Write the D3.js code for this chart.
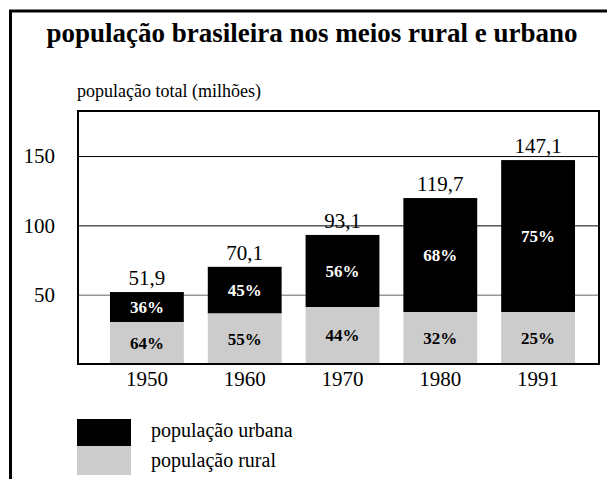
<!DOCTYPE html>
<html>
<head>
<meta charset="utf-8">
<script src="https://cdn.jsdelivr.net/npm/d3@7"></script>
<style>
  body { margin: 0; background: #fff; }
  svg { display: block; font-family: "Liberation Serif", "Times New Roman", serif; }
</style>
</head>
<body>
<div id="chart"></div>
<script>
// data
const years = ['1950', '1960', '1970', '1980', '1991'];
const totals = [51.9, 70.1, 93.1, 119.7, 147.1];          // milhões
const totalLabels = ['51,9', '70,1', '93,1', '119,7', '147,1'];
const urbanPct = [36, 45, 56, 68, 75];
const ruralPct = [64, 55, 44, 32, 25];
const ruralDrawn = [30.3, 36.4, 41.1, 37.5, 37.5];        // height of grey part as drawn
const yTicks = [50, 100, 150];

const W = 607, H = 479;
const box = { left: 78, right: 599, top: 111, bottom: 364 };

const svg = d3.select('#chart')
    .append('svg')
    .attr('width', W)
    .attr('height', H);

// outer frame (top + left only)
svg.append('path')
    .attr('d', `M10.5,${H} V11 H${W}`)
    .attr('fill', 'none')
    .attr('stroke', '#000')
    .attr('stroke-width', 3);

// title
svg.append('text')
    .attr('x', 312)
    .attr('y', 42)
    .attr('text-anchor', 'middle')
    .style('font-size', '27px')
    .style('font-weight', 'bold')
    .text('população brasileira nos meios rural e urbano');

svg.append('text')
    .attr('x', 77)
    .attr('y', 97)
    .style('font-size', '18px')
    .text('população total (milhões)');

// scales
const x = d3.scaleBand()
    .domain(years)
    .range([98, 587])
    .paddingInner(0.245)
    .paddingOuter(0.1225);

const y = d3.scaleLinear()
    .domain([0, 182.5])
    .range([box.bottom, box.top]);

// grid lines + ticks
const yAxis = d3.axisLeft(y)
    .tickValues(yTicks)
    .tickSize(10)
    .tickPadding(13)
    .tickFormat(d3.format('d'));

const gy = svg.append('g')
    .attr('transform', `translate(${box.left},0)`)
    .call(yAxis);
gy.select('.domain').remove();
gy.selectAll('.tick line')
    .attr('x2', box.right - box.left)
    .attr('stroke', d => d === 50 ? '#666' : '#000');
gy.selectAll('.tick text')
    .style('font-size', '21px')
    .style('font-family', '"Liberation Serif", serif')
    .attr('fill', '#000');

// bars
const bars = svg.selectAll('.bar')
    .data(years.map((yr, i) => ({ yr, total: totals[i], label: totalLabels[i], up: urbanPct[i], rp: ruralPct[i], rural: ruralDrawn[i] })))
    .enter()
    .append('g')
    .attr('class', 'bar');

bars.append('rect')
    .attr('x', d => x(d.yr))
    .attr('y', d => y(d.total))
    .attr('width', x.bandwidth())
    .attr('height', d => y(d.rural) - y(d.total))
    .attr('fill', '#000');

bars.append('rect')
    .attr('x', d => x(d.yr))
    .attr('y', d => y(d.rural))
    .attr('width', x.bandwidth())
    .attr('height', d => y(0) - y(d.rural))
    .attr('fill', '#cccccc');

bars.append('text')
    .attr('x', d => x(d.yr) + x.bandwidth() / 2)
    .attr('y', d => (y(d.total) + y(d.rural)) / 2)
    .attr('dy', '0.35em')
    .attr('text-anchor', 'middle')
    .attr('fill', '#fff')
    .style('font-size', '17px')
    .style('font-weight', 'bold')
    .text(d => d.up + '%');

bars.append('text')
    .attr('x', d => x(d.yr) + x.bandwidth() / 2)
    .attr('y', d => (y(d.rural) + y(0)) / 2)
    .attr('dy', '0.35em')
    .attr('text-anchor', 'middle')
    .attr('fill', '#000')
    .style('font-size', '17px')
    .style('font-weight', 'bold')
    .text(d => d.rp + '%');

bars.append('text')
    .attr('x', d => x(d.yr) + x.bandwidth() / 2)
    .attr('y', d => y(d.total) - 7)
    .attr('text-anchor', 'middle')
    .style('font-size', '21px')
    .text(d => d.label);

// plot box
svg.append('rect')
    .attr('x', box.left)
    .attr('y', box.top)
    .attr('width', box.right - box.left)
    .attr('height', box.bottom - box.top)
    .attr('fill', 'none')
    .attr('stroke', '#000')
    .attr('stroke-width', 2);

// x axis labels
const xAxis = d3.axisBottom(x).tickSize(0).tickPadding(7);
const gx = svg.append('g')
    .attr('transform', `translate(0,${box.bottom})`)
    .call(xAxis);
gx.select('.domain').remove();
gx.selectAll('text')
    .style('font-size', '21px')
    .style('font-family', '"Liberation Serif", serif')
    .attr('fill', '#000');

// legend
const legendItems = [
    { label: 'população urbana', color: '#000' },
    { label: 'população rural', color: '#cccccc' }
];
const legend = svg.append('g').attr('transform', 'translate(77,419)');
legend.selectAll('rect')
    .data(legendItems)
    .enter()
    .append('rect')
    .attr('x', 0)
    .attr('y', (d, i) => i * 27)
    .attr('width', 54)
    .attr('height', (d, i) => i === 0 ? 27 : 29)
    .attr('fill', d => d.color);
legend.selectAll('text')
    .data(legendItems)
    .enter()
    .append('text')
    .attr('x', 74)
    .attr('y', (d, i) => 18 + i * 30)
    .style('font-size', '20px')
    .text(d => d.label);
</script>
</body>
</html>
